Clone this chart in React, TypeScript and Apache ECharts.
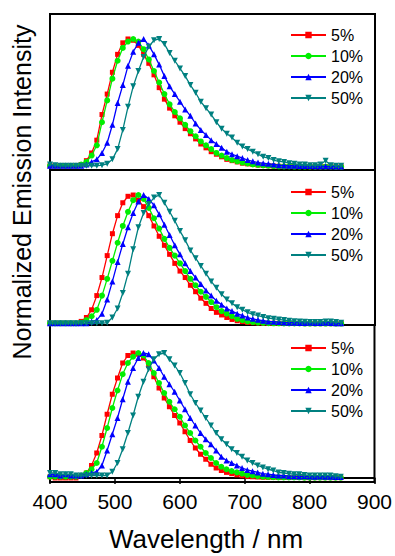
import React, { useEffect, useRef } from "react";
import * as echarts from "echarts";

const wavelengths = [400,408,416,424,432,440,448,456,464,472,480,488,496,504,512,520,528,536,544,552,560,568,576,584,592,600,608,616,624,632,640,648,656,664,672,680,688,696,704,712,720,728,736,744,752,760,768,776,784,792,800,808,816,824,832,840,848];

const seriesNames = ["5%", "10%", "20%", "50%"];
const xTicks = [400, 500, 600, 700, 800, 900];

// Panel 1 (top)
const p1s5 = [0.01,0.01,0.01,0.01,0.01,0.01,0.02,0.05,0.11,0.21,0.41,0.57,0.74,0.88,0.97,1.0,0.99,0.95,0.88,0.81,0.72,0.62,0.53,0.46,0.40,0.35,0.30,0.26,0.22,0.18,0.15,0.12,0.10,0.08,0.06,0.05,0.04,0.03,0.025,0.02,0.015,0.012,0.01,0.008,0.006,0.005,0.005,0.004,0.004,0.004,0.003,0.003,0.003,0.003,0.003,0.002,0.002];
const p1s10 = [0.01,0.01,0.01,0.01,0.01,0.01,0.02,0.04,0.09,0.17,0.35,0.52,0.69,0.83,0.93,0.98,1.0,0.98,0.92,0.84,0.75,0.66,0.57,0.49,0.43,0.38,0.33,0.28,0.24,0.20,0.17,0.14,0.11,0.09,0.07,0.055,0.045,0.035,0.028,0.02,0.016,0.012,0.01,0.008,0.006,0.005,0.005,0.004,0.004,0.004,0.003,0.003,0.003,0.003,0.003,0.002,0.002];
const p1s20 = [0.01,0.01,0.01,0.01,0.01,0.01,0.01,0.02,0.04,0.06,0.11,0.19,0.33,0.50,0.64,0.79,0.90,0.97,1.0,0.95,0.88,0.80,0.71,0.63,0.57,0.51,0.45,0.40,0.34,0.29,0.25,0.21,0.18,0.15,0.12,0.10,0.085,0.07,0.055,0.045,0.035,0.03,0.025,0.02,0.015,0.012,0.01,0.01,0.008,0.008,0.008,0.007,0.007,0.006,0.006,0.005,0.005];
const p1s50 = [0.02,0.015,0.01,0.01,0.01,0.01,0.01,0.01,0.01,0.01,0.015,0.025,0.06,0.14,0.29,0.47,0.63,0.75,0.86,0.94,0.99,1.0,0.96,0.89,0.83,0.77,0.71,0.64,0.58,0.51,0.46,0.41,0.35,0.30,0.26,0.23,0.19,0.16,0.14,0.12,0.10,0.08,0.07,0.055,0.045,0.04,0.03,0.025,0.02,0.02,0.015,0.015,0.02,0.05,0.015,0.01,0.01];

// Panel 2 (middle)
const p2s5 = [0.005,0.005,0.005,0.005,0.005,0.005,0.02,0.05,0.11,0.22,0.36,0.53,0.70,0.84,0.94,0.99,1.0,0.96,0.91,0.84,0.76,0.68,0.61,0.54,0.47,0.41,0.36,0.30,0.25,0.20,0.16,0.12,0.09,0.07,0.05,0.035,0.025,0.018,0.012,0.01,0.008,0.006,0.005,0.005,0.005,0.004,0.004,0.004,0.004,0.003,0.003,0.003,0.003,0.003,0.003,0.003,0.003];
const p2s10 = [0.005,0.005,0.005,0.005,0.005,0.005,0.01,0.03,0.06,0.11,0.22,0.35,0.49,0.63,0.76,0.87,0.96,1.0,0.97,0.90,0.82,0.74,0.66,0.59,0.53,0.47,0.41,0.35,0.30,0.25,0.21,0.17,0.13,0.10,0.08,0.06,0.04,0.03,0.02,0.015,0.01,0.008,0.006,0.005,0.005,0.004,0.004,0.004,0.004,0.003,0.003,0.003,0.003,0.003,0.003,0.003,0.003];
const p2s20 = [0.005,0.005,0.005,0.005,0.005,0.005,0.005,0.005,0.02,0.03,0.08,0.19,0.33,0.48,0.62,0.75,0.86,0.95,1.0,0.97,0.92,0.85,0.77,0.69,0.61,0.54,0.47,0.41,0.36,0.31,0.26,0.22,0.18,0.15,0.12,0.10,0.08,0.065,0.05,0.04,0.032,0.025,0.02,0.018,0.015,0.012,0.01,0.01,0.008,0.008,0.01,0.008,0.008,0.01,0.008,0.006,0.005];
const p2s50 = [0.005,0.005,0.005,0.005,0.005,0.005,0.005,0.005,0.005,0.005,0.005,0.01,0.05,0.12,0.24,0.39,0.58,0.75,0.86,0.93,0.98,1.0,0.94,0.87,0.80,0.72,0.65,0.57,0.51,0.45,0.39,0.33,0.28,0.23,0.19,0.16,0.13,0.11,0.09,0.075,0.065,0.055,0.045,0.04,0.035,0.03,0.025,0.022,0.02,0.018,0.015,0.015,0.015,0.02,0.02,0.015,0.01];

// Panel 3 (bottom)
const p3s5 = [0.01,0.0,0.0,0.0,0.0,0.0,0.02,0.04,0.10,0.20,0.34,0.51,0.67,0.80,0.92,0.98,1.0,0.99,0.96,0.90,0.81,0.72,0.64,0.57,0.50,0.44,0.37,0.30,0.24,0.19,0.15,0.11,0.08,0.06,0.045,0.035,0.025,0.018,0.013,0.01,0.008,0.006,0.005,0.005,0.005,0.004,0.004,0.004,0.004,0.003,0.003,0.003,0.003,0.003,0.003,0.003,0.003];
const p3s10 = [0.01,0.01,0.01,0.01,0.01,0.01,0.02,0.04,0.07,0.12,0.25,0.40,0.56,0.70,0.83,0.92,0.97,1.0,0.98,0.92,0.84,0.76,0.68,0.61,0.55,0.49,0.42,0.36,0.30,0.25,0.20,0.16,0.12,0.09,0.07,0.055,0.045,0.035,0.025,0.02,0.015,0.01,0.008,0.006,0.005,0.005,0.004,0.004,0.004,0.003,0.003,0.003,0.003,0.003,0.003,0.003,0.003];
const p3s20 = [0.03,0.03,0.02,0.03,0.02,0.02,0.02,0.03,0.04,0.05,0.10,0.22,0.35,0.48,0.63,0.77,0.88,0.96,1.0,0.99,0.94,0.88,0.81,0.75,0.69,0.62,0.55,0.48,0.42,0.36,0.31,0.27,0.22,0.17,0.14,0.12,0.10,0.08,0.065,0.055,0.045,0.035,0.03,0.025,0.02,0.02,0.015,0.015,0.012,0.015,0.012,0.01,0.012,0.01,0.01,0.008,0.008];
const p3s50 = [0.04,0.04,0.03,0.03,0.03,0.02,0.02,0.02,0.02,0.02,0.02,0.02,0.05,0.12,0.23,0.36,0.50,0.65,0.77,0.87,0.95,0.99,1.0,0.95,0.90,0.84,0.76,0.67,0.60,0.54,0.48,0.42,0.36,0.31,0.27,0.23,0.20,0.17,0.14,0.12,0.10,0.085,0.07,0.06,0.045,0.04,0.035,0.03,0.03,0.025,0.02,0.02,0.02,0.02,0.02,0.015,0.01];

const panels = [
  [p1s5, p1s10, p1s20, p1s50],
  [p2s5, p2s10, p2s20, p2s50],
  [p3s5, p3s10, p3s20, p3s50],
];

const colors = ["#ff0000", "#00ee00", "#0000ff", "#008080"];
const symbols = ["rect", "circle", "triangle", "triangle"];
const symbolRotates = [0, 0, 0, 180];
const symbolSizes = [5, 6, 6, 6];

const FONT = "'Liberation Sans', Arial, Helvetica, sans-serif";

const gridBoxes = [
  { top: 14, height: 156 },
  { top: 170, height: 155 },
  { top: 325, height: 157 },
];
const yRanges = [
  { min: -0.023, max: 1.195 },
  { min: -0.008, max: 1.194 },
  { min: -0.032, max: 1.224 },
];
const legendTops = [27, 184, 340];

export default function App() {
  const ref = useRef<HTMLDivElement>(null);
  useEffect(() => {
    if (!ref.current) return;
    const chart = echarts.init(ref.current, null, { renderer: "svg" });
    const series: any[] = [];
    panels.forEach((arrs, g) => {
      arrs.forEach((arr, k) => {
        series.push({
          type: "line",
          name: seriesNames[k],
          xAxisIndex: g,
          yAxisIndex: g,
          data: wavelengths.map((w, i) => [w, arr[i]]),
          symbol: symbols[k],
          symbolRotate: symbolRotates[k],
          symbolSize: symbolSizes[k],
          showAllSymbol: true,
          lineStyle: { color: colors[k], width: 1.3 },
          itemStyle: { color: colors[k], borderWidth: 0 },
          emphasis: { disabled: true },
          z: 2 + k,
        });
      });
    });
    const option: any = {
      animation: false,
      grid: gridBoxes.map((b) => ({
        left: 50,
        right: 20,
        top: b.top,
        height: b.height,
        show: true,
        borderColor: "#000",
        borderWidth: 2,
        backgroundColor: "transparent",
        containLabel: false,
      })),
      xAxis: gridBoxes.map((_, g) => ({
        type: "value",
        gridIndex: g,
        min: 400,
        max: 900,
        interval: 100,
        show: g === 2,
        axisLine: { show: true, lineStyle: { color: "#000", width: 2 } },
        axisTick: { show: true, inside: false, length: 6, lineStyle: { color: "#000", width: 1.5 } },
        axisLabel: {
          show: true,
          color: "#000",
          fontSize: 21,
          fontFamily: FONT,
          margin: 9,
          formatter: (v: number) => (xTicks.includes(v) ? String(v) : ""),
        },
        splitLine: { show: false },
      })),
      yAxis: gridBoxes.map((_, g) => ({
        type: "value",
        gridIndex: g,
        min: yRanges[g].min,
        max: yRanges[g].max,
        show: false,
        splitLine: { show: false },
      })),
      legend: legendTops.map((t) => ({
        data: seriesNames,
        orient: "vertical",
        left: 290,
        top: t,
        padding: 0,
        itemWidth: 35,
        itemHeight: 8,
        itemGap: 5,
        selectedMode: false,
        textStyle: { fontSize: 16, color: "#000", fontFamily: FONT, lineHeight: 16, padding: [0, 0, 0, 0] },
      })),
      graphic: [
        {
          type: "text",
          x: 22,
          y: 192,
          rotation: Math.PI / 2,
          style: {
            text: "Normalized Emission Intensity",
            fontSize: 25,
            fontFamily: FONT,
            fill: "#000",
            textAlign: "center",
            textVerticalAlign: "middle",
          },
        },
        {
          type: "text",
          x: 206,
          y: 539,
          style: {
            text: "Wavelength / nm",
            fontSize: 26,
            fontFamily: FONT,
            fill: "#000",
            textAlign: "center",
            textVerticalAlign: "middle",
          },
        },
      ],
      series,
    };
    chart.setOption(option);
    return () => chart.dispose();
  }, []);
  return (
    <div
      ref={ref}
      style={{ position: "fixed", left: 0, top: 0, width: 395, height: 556, background: "#fff" }}
    />
  );
}
